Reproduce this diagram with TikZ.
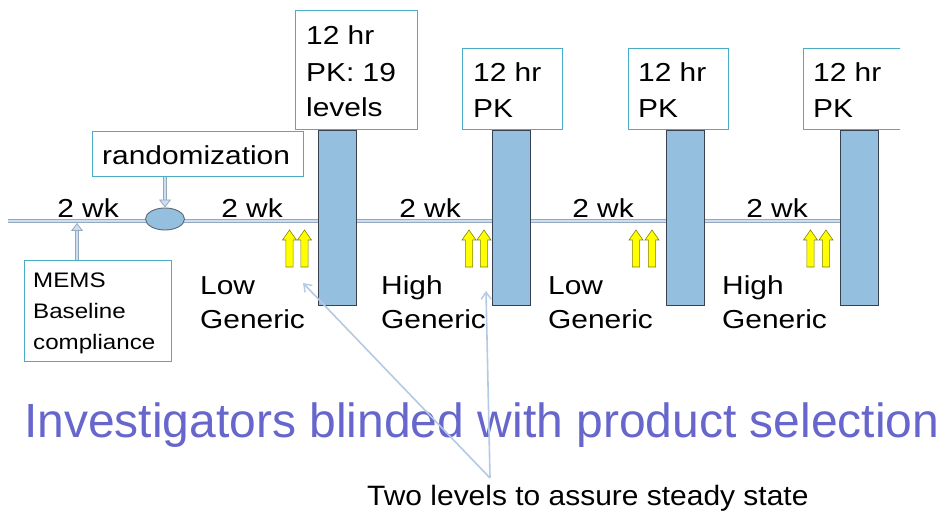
\documentclass[tikz,border=0pt]{standalone}
\usepackage{fontspec}
\setmainfont{Liberation Sans}
\newfontfamily\dgfont[FakeStretch=1.15]{Liberation Sans}
\newfontfamily\notefont[FakeStretch=1.07]{Liberation Sans}
\usetikzlibrary{arrows.meta,shapes.geometric}

\definecolor{boxedge}{RGB}{75,172,198}
\definecolor{barfill}{RGB}{149,191,222}
\definecolor{baredge}{RGB}{55,65,80}
\definecolor{lineblue}{RGB}{205,222,240}
\definecolor{lineedge}{RGB}{150,168,190}
\definecolor{calloutc}{RGB}{180,201,226}
\definecolor{yel}{RGB}{255,255,0}
\definecolor{yeledge}{RGB}{130,130,0}
\definecolor{bigblue}{RGB}{102,102,204}

\tikzset{
  lbl/.style={font=\dgfont\fontsize{26}{30}\selectfont, anchor=base west, inner sep=0pt},
  memslbl/.style={font=\dgfont\fontsize{21}{25}\selectfont, anchor=base west, inner sep=0pt},
  frame/.style={draw=boxedge, line width=1.3pt, fill=white, anchor=north west, inner sep=0pt},
  pkbar/.style={draw=baredge, line width=1pt, fill=barfill, anchor=north west,
    inner sep=0pt, minimum width=38pt, minimum height=175pt},
  tline/.style={draw=lineedge, line width=0.8pt, double=lineblue, double distance=2.8pt},
  feed/.style={tline, -{Triangle[length=8pt,width=12pt,fill=lineblue]}},
  callout/.style={draw=calloutc, line width=1.6pt,
    -{Straight Barb[length=7pt,width=10pt,line width=1.4pt]}},
  yup/.pic={\draw[fill=yel, draw=yeledge, line width=0.6pt]
    (-3.6,0) -- (-3.6,-27) -- (-7,-27) -- (0,-37) -- (7,-27) -- (3.6,-27) -- (3.6,0) -- cycle;}
}

\begin{document}
\begin{tikzpicture}[x=1pt,y=-1pt]
\useasboundingbox (0,0) rectangle (938,513);

% time line
\coordinate (start) at (8,221);
\coordinate (base) at (77,223);
\node[pkbar] (bar4) at (840,130) {};
\draw[tline] (start) -- (bar4.west |- start);

% randomization marker
\node[ellipse, draw=baredge!80, line width=0.9pt, fill=barfill,
      minimum width=39pt, minimum height=22pt, inner sep=0pt] (ell) at (165,219) {};

% PK sampling bars
\node[pkbar] (bar1) at (318,130) {};
\node[pkbar] (bar2) at (492,130) {};
\node[pkbar] (bar3) at (666,130) {};
\node[pkbar] at (840,130) {};

% PK boxes
\node[frame, minimum width=122pt, minimum height=119pt] (pk1) at (295,10) {};
\node[frame, minimum width=100pt, minimum height=81pt] (pk2) at (462,48) {};
\node[frame, minimum width=100pt, minimum height=81pt] (pk3) at (628,48) {};
\begin{scope}
  \clip (0,0) rectangle (900,513);
  \node[frame, minimum width=104pt, minimum height=81pt] (pk4) at (803,48) {};
\end{scope}

\node[lbl] (pk1a) at (306,45) {12 hr};
\node[lbl] (pk1b) at (306,82) {PK: 19};
\node[lbl] (pk1c) at (306,117) {levels};
\node[lbl] (pk2a) at (473,82) {12 hr};
\node[lbl] (pk2b) at (473,118) {PK};
\node[lbl] (pk3a) at (638,82) {12 hr};
\node[lbl] (pk3b) at (638,118) {PK};
\node[lbl] (pk4a) at (813,82) {12 hr};
\node[lbl] (pk4b) at (813,118) {PK};

% randomization and baseline boxes
\node[frame, minimum width=211pt, minimum height=45pt] (rand) at (92,131) {};
\node[lbl] (randt) at (102,165) {randomization};
\node[frame, minimum width=147pt, minimum height=101pt] (mems) at (24,260) {};
\node[memslbl] (mems1) at (33,288) {MEMS};
\node[memslbl] (mems2) at (33,319) {Baseline};
\node[memslbl] (mems3) at (33,350) {compliance};

\draw[feed] (rand.south -| ell.north) -- (ell.north);
\draw[feed] (mems.north -| base) -- (base);

% period lengths
\node[lbl, anchor=base] (wk1) at (88,218) {2 wk};
\node[lbl, anchor=base] (wk2) at (252,218) {2 wk};
\node[lbl, anchor=base] (wk3) at (430,218) {2 wk};
\node[lbl, anchor=base] (wk4) at (603,218) {2 wk};
\node[lbl, anchor=base] (wk5) at (777,218) {2 wk};

% dose markers
\foreach \xa in {289.5,304.5,469,484,636,652,810.5,826}
  \pic at (\xa,267) {yup};

% treatment labels
\node[lbl] (t1a) at (200,295) {Low};
\node[lbl] (t1b) at (200,329) {Generic};
\node[lbl] (t2a) at (381,295) {High};
\node[lbl] (t2b) at (381,329) {Generic};
\node[lbl] (t3a) at (548,295) {Low};
\node[lbl] (t3b) at (548,329) {Generic};
\node[lbl] (t4a) at (722,295) {High};
\node[lbl] (t4b) at (722,329) {Generic};

% notes
\node[font=\fontsize{48}{52}\selectfont, text=bigblue, anchor=base west, inner sep=0pt]
  (blind) at (24,437) {Investigators blinded with product selection};
\node[font=\notefont\fontsize{28}{32}\selectfont, anchor=base west, inner sep=0pt]
  (steady) at (367,505) {Two levels to assure steady state};

\coordinate (fork) at (490,478);
\coordinate (tip1) at (303,283);
\coordinate (tip2) at (486,291);
\draw[callout] (fork) -- (tip1);
\draw[callout] (fork) -- (tip2);
\end{tikzpicture}
\end{document}
